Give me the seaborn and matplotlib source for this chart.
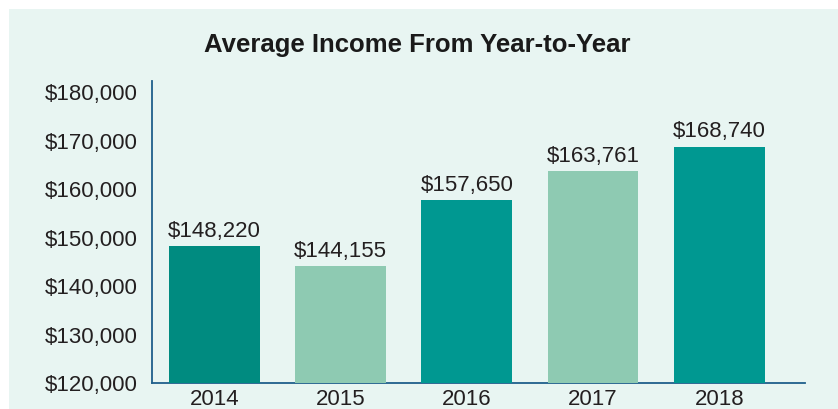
import matplotlib.pyplot as plt
import seaborn as sns
import pandas as pd

# data
years = ['2014', '2015', '2016', '2017', '2018']
income = [148220, 144155, 157650, 163761, 168740]
bar_colors = ['#008b80', '#8ecab2', '#009891', '#8ecab2', '#009891']
y_ticks = [120000, 130000, 140000, 150000, 160000, 170000, 180000]

df = pd.DataFrame({'year': years, 'income': income})

sns.set_theme(style='white')
plt.rcParams['font.family'] = ['Liberation Sans', 'DejaVu Sans']

fig = plt.figure(figsize=(8.38, 4.09), dpi=100, facecolor='white')

# mint background panel
bg = fig.add_axes([9 / 838, 0, 1 - 9 / 838, 1 - 9 / 409], zorder=-1)
bg.set_facecolor('#e8f5f2')
bg.set_xticks([])
bg.set_yticks([])
for s in bg.spines.values():
    s.set_visible(False)

ax = fig.add_axes([152 / 838, 26 / 409, 653 / 838, 302 / 409])
ax.set_facecolor('none')

sns.barplot(data=df, x='year', y='income', hue='year', palette=bar_colors, legend=False,
            width=0.72, saturation=1, linewidth=0, ax=ax, zorder=3)

for i, v in enumerate(income):
    ax.text(i, v + 900, '${:,}'.format(v), ha='center', va='bottom', fontsize=16, color='#231f20')

ax.set_ylim(120000, 182300)
ax.set_xlim(-0.495, 4.68)
ax.set_yticks(y_ticks)
ax.set_yticklabels(['${:,}'.format(t) for t in y_ticks], fontsize=16, color='#231f20')
ax.tick_params(axis='x', labelsize=16, labelcolor='#231f20', length=0, pad=4)
ax.tick_params(axis='y', length=0, pad=10)
ax.set_xlabel('')
ax.set_ylabel('')

for s in ['top', 'right']:
    ax.spines[s].set_visible(False)
for s in ['left', 'bottom']:
    ax.spines[s].set_color('#1f5f8b')
    ax.spines[s].set_linewidth(1.3)
    ax.spines[s].set_zorder(2)

fig.text(417 / 838, 1 - 45 / 409, 'Average Income From Year-to-Year', ha='center', va='center',
         fontsize=18.5, fontweight='bold', color='#1a1a1a')

plt.savefig('out.png', dpi=100, facecolor='white')
